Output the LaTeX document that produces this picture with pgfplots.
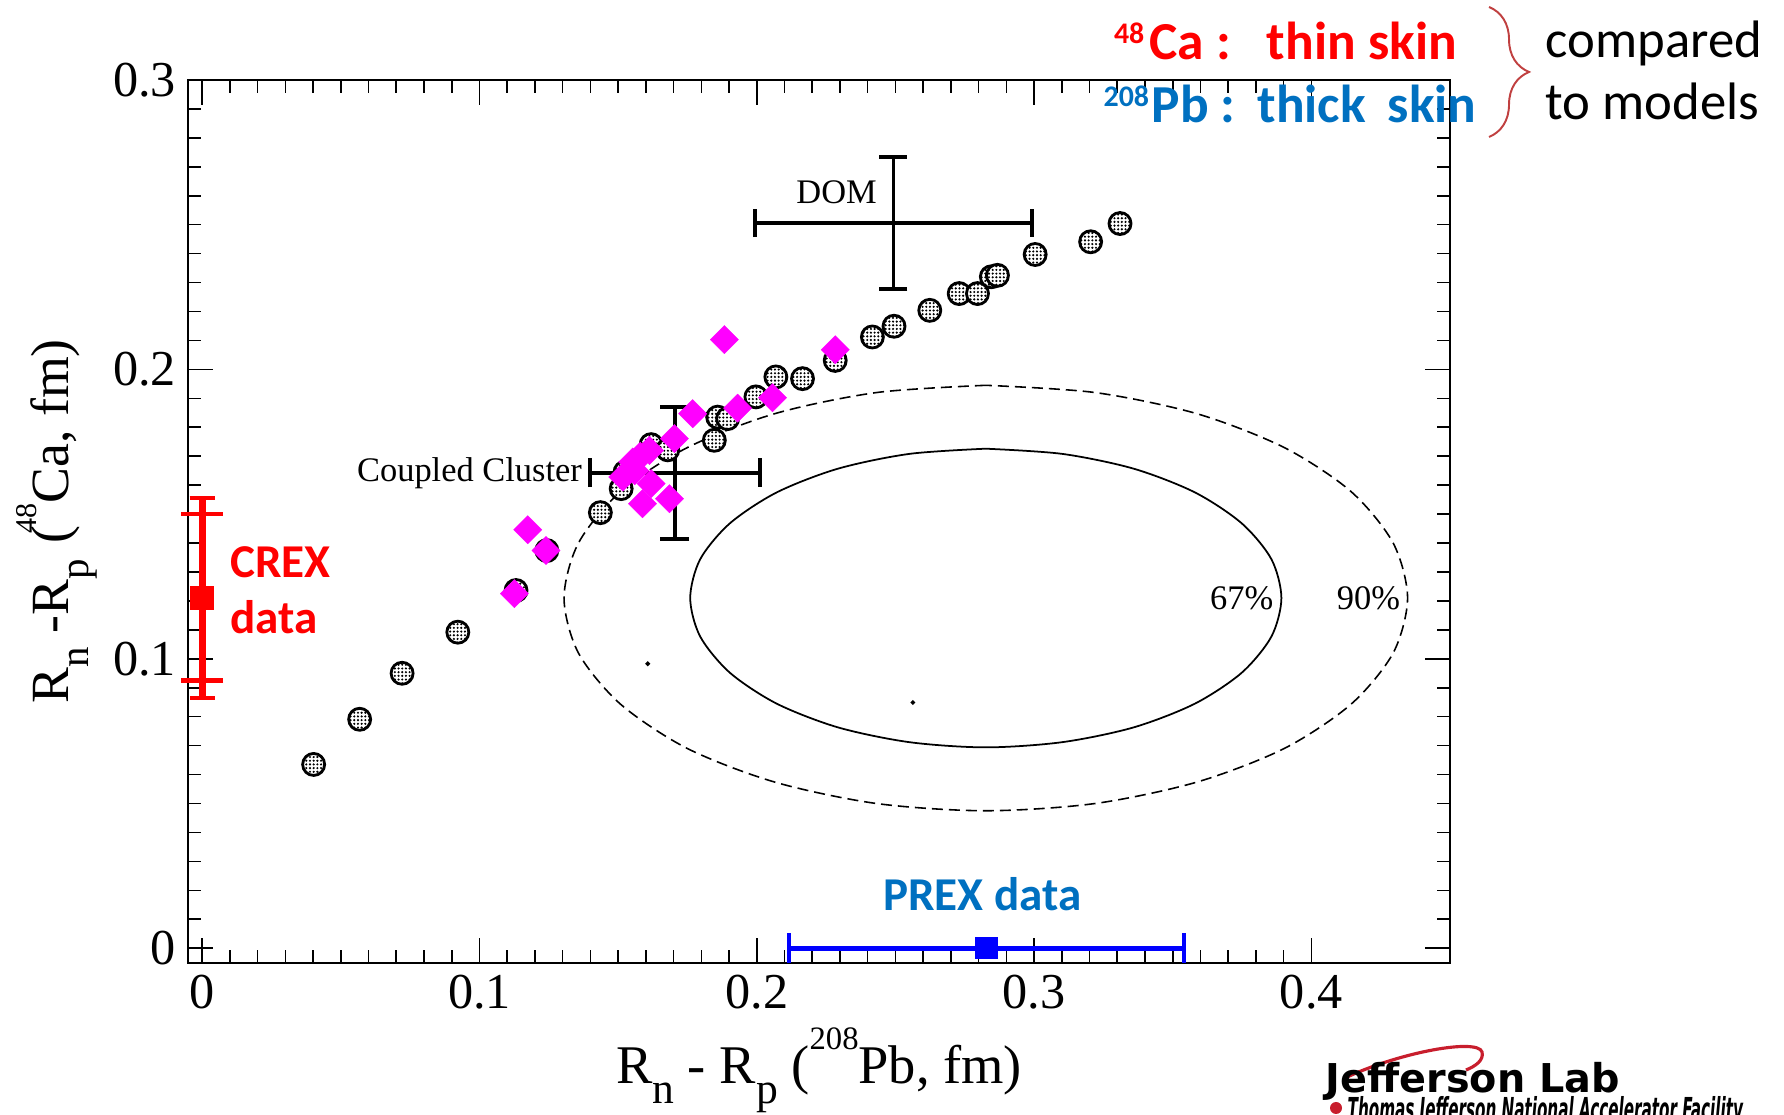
\documentclass[border=0pt]{standalone}
\usepackage{fontspec}
\setmainfont{Liberation Serif}
\newfontfamily\cali{Carlito}
\newfontfamily\djv{DejaVu Sans}
\usepackage{graphicx}
\usepackage{pgfplots}
\pgfplotsset{compat=1.18}
\usetikzlibrary{patterns,decorations.pathreplacing}

\definecolor{crexred}{RGB}{255,0,0}
\definecolor{prexblue}{RGB}{0,0,255}
\definecolor{txtblue}{RGB}{0,112,192}
\definecolor{magD}{RGB}{255,0,255}
\definecolor{bracered}{RGB}{192,64,64}
\definecolor{jlabred}{RGB}{200,30,45}

\pgfdeclarepatternformonly{stipdots}{\pgfqpoint{-0.5pt}{-0.5pt}}{\pgfqpoint{0.5pt}{0.5pt}}{\pgfqpoint{1.05pt}{1.05pt}}{\pgfpathcircle{\pgfpointorigin}{0.34pt}\pgfusepath{fill}}
\pgfdeclareplotmark{stipple}{%
  \pgfpathcircle{\pgfpointorigin}{\pgfplotmarksize}%
  \pgfsetfillcolor{white}\pgfusepathqfill
  \pgfpathcircle{\pgfpointorigin}{\pgfplotmarksize}%
  \pgfsetfillpattern{stipdots}{black}\pgfusepathqfillstroke}

\newcommand\subx[1]{\raisebox{-0.37em}{\scalebox{0.8}{#1}}}
\newcommand\supx[1]{\raisebox{0.62em}{\scalebox{0.6}{#1}}}
\newcommand\suby[1]{\raisebox{-0.37em}{\scalebox{0.76}{#1}}}
\newcommand\supy[1]{\raisebox{0.6em}{\scalebox{0.56}{#1}}}

\begin{document}
\begin{tikzpicture}
\path[use as bounding box] (-18.83mm,-15.23mm) rectangle (159.57mm,96.27mm);
\begin{axis}[
  at={(0,0)}, anchor=south west, scale only axis,
  width=126.17mm, height=88.27mm,
  xmin=-0.005, xmax=0.45, ymin=-0.005, ymax=0.3,
  xtick={0,0.1,0.2,0.3,0.4}, ytick={0,0.1,0.2,0.3},
  minor x tick num=9, minor y tick num=9,
  tick pos=both, tick align=inside,
  major tick length=2.5mm, minor tick length=1.3mm,
  every tick/.style={black, line width=0.45pt},
  axis line style={line width=0.55pt},
  /pgf/number format/assume math mode=true,
  tick label style={font=\fontsize{14.3}{16}\selectfont},
  label style={font=\fontsize{15.5}{18}\selectfont},
  xlabel={R\subx{n} - R\subx{p} (\supx{208}Pb, fm)},
  ylabel={R\suby{n} -R\suby{p}\hspace{0.3em}(\hspace{-0.15em}\supy{48}Ca, fm)},
  xlabel style={at={(axis description cs:0.5,-0.1363)}, anchor=base},
  ylabel style={at={(axis description cs:-0.0946,0.5)}, anchor=base, font=\fontsize{15.3}{18}\selectfont},
  clip=false,
]
% 67% contour
\addplot[black, line width=0.5pt, smooth] coordinates {
(0.2826,0.1726) (0.2550,0.1708) (0.2293,0.1657) (0.2072,0.1575) (0.1903,0.1468) (0.1796,0.1344)
(0.1760,0.1210) (0.1796,0.1077) (0.1903,0.0952) (0.2072,0.0845) (0.2293,0.0763) (0.2550,0.0712)
(0.2826,0.0694) (0.3102,0.0712) (0.3359,0.0763) (0.3580,0.0845) (0.3749,0.0952) (0.3856,0.1077)
(0.3892,0.1210) (0.3856,0.1344) (0.3749,0.1468) (0.3580,0.1575) (0.3359,0.1657) (0.3102,0.1708)
(0.2826,0.1726)};
% 90% contour
\addplot[black, line width=0.45pt, smooth, dash pattern=on 1.1mm off 0.6mm] coordinates {
(0.2826,0.1945) (0.2432,0.1920) (0.2065,0.1847) (0.1750,0.1730) (0.1509,0.1578) (0.1357,0.1400)
(0.1305,0.1210) (0.1357,0.1020) (0.1509,0.0843) (0.1750,0.0690) (0.2065,0.0574) (0.2432,0.0500)
(0.2826,0.0475) (0.3220,0.0500) (0.3587,0.0574) (0.3902,0.0690) (0.4143,0.0843) (0.4295,0.1020)
(0.4347,0.1210) (0.4295,0.1400) (0.4143,0.1578) (0.3902,0.1730) (0.3587,0.1847) (0.3220,0.1920)
(0.2826,0.1945)};
\addplot[only marks, mark=*, mark size=0.45pt, black] coordinates {(0.1607,0.0983) (0.2563,0.0849)};
% model points (stippled circles)
\addplot[only marks, mark=stipple, mark size=1.1mm, mark options={draw=black, line width=0.8pt}] coordinates {
(0.0402,0.0635) (0.0568,0.0791) (0.0721,0.0950) (0.0922,0.1092) (0.1132,0.1236) (0.1243,0.1374)
(0.1436,0.1505) (0.1525,0.1645) (0.1511,0.1588) (0.1619,0.1740) (0.1679,0.1722) (0.1847,0.1755)
(0.1859,0.1835) (0.1895,0.1830) (0.1997,0.1905) (0.2069,0.1974) (0.2165,0.1968) (0.2283,0.2031)
(0.2417,0.2112) (0.2495,0.2149) (0.2624,0.2204) (0.2730,0.2262) (0.2796,0.2262) (0.2846,0.2320)
(0.2868,0.2325) (0.3004,0.2397) (0.3204,0.2441) (0.3310,0.2504)};
% model points (magenta diamonds)
\addplot[only marks, mark=square*, mark size=1.0mm, mark options={rotate=45, fill=magD, draw=magD, line width=0.1pt}] coordinates {
(0.1126,0.1225) (0.1174,0.1446) (0.1240,0.1374) (0.1517,0.1628) (0.1560,0.1650) (0.1553,0.1680)
(0.1580,0.1700) (0.1588,0.1536) (0.1619,0.1605) (0.1613,0.1720) (0.1685,0.1553) (0.1703,0.1761)
(0.1769,0.1847) (0.1883,0.2103) (0.1931,0.1866) (0.2057,0.1902) (0.2283,0.2068)};
% DOM
\addplot[black, mark=none, error bars/.cd, x dir=both, y dir=both, x explicit, y explicit,
  error bar style={line width=1.05pt, black}, error mark options={rotate=90, line width=1.05pt, mark size=1.4mm, black}]
  coordinates {(0.2493,0.2505) +- (0.0499,0.0228)};
% Coupled Cluster
\addplot[black, mark=none, error bars/.cd, x dir=both, y dir=both, x explicit, y explicit,
  error bar style={line width=1.05pt, black}, error mark options={rotate=90, line width=1.05pt, mark size=1.45mm, black}]
  coordinates {(0.1705,0.1643) +- (0.0306,0.0228)};
% CREX
\addplot[crexred, mark=none, error bars/.cd, y dir=both, y explicit,
  error bar style={line width=2pt, crexred}, error mark options={rotate=90, line width=1.2pt, mark size=1.25mm, crexred}]
  coordinates {(0,0.1210) +- (0,0.0346)};
\addplot[crexred, mark=none, error bars/.cd, y dir=both, y explicit,
  error bar style={line width=1.2pt, crexred}, error mark options={rotate=90, line width=1.2pt, mark size=2.1mm, crexred}]
  coordinates {(0,0.1213) +- (0,0.0288)};
\addplot[only marks, mark=square*, mark size=1.15mm, crexred] coordinates {(0,0.1210)};
% PREX
\addplot[prexblue, mark=none, error bars/.cd, x dir=both, x explicit,
  error bar style={line width=1.3pt, prexblue}, error mark options={rotate=90, line width=1.3pt, mark size=1.5mm, prexblue}]
  coordinates {(0.2829,0) +- (0.0712,0)};
\addplot[only marks, mark=square*, mark size=1.05mm, prexblue] coordinates {(0.2829,0)};

\node[inner sep=0, font=\fontsize{9.8}{11}\selectfont] at (axis cs:0.2288,0.2611) {DOM};
\node[inner sep=0, anchor=east, font=\fontsize{9.8}{11}\selectfont] at (axis cs:0.1372,0.1641) {Coupled Cluster};
\node[inner sep=0, anchor=east, font=\fontsize{9.8}{11}\selectfont] at (axis cs:0.3865,0.1210) {67\%};
\node[inner sep=0, anchor=east, font=\fontsize{9.8}{11}\selectfont] at (axis cs:0.4322,0.1210) {90\%};
\node[inner sep=0, anchor=base west, text=crexred, font={\cali\bfseries\fontsize{13.4}{16}\selectfont}] at (axis cs:0.0099,0.1282) {CREX};
\node[inner sep=0, anchor=base west, text=crexred, font={\cali\bfseries\fontsize{13.4}{16}\selectfont}] at (axis cs:0.0099,0.1086) {data};
\node[inner sep=0, anchor=base, text=txtblue, font={\cali\bfseries\fontsize{13.4}{16}\selectfont}] at (axis cs:0.2813,0.0130) {PREX data};
\end{axis}
\begin{scope}[x=0.1mm,y=-0.1mm,shift={(-188.3,-962.7)}]
\node[inner sep=0, anchor=base west, text=crexred, font={\cali\bfseries\fontsize{15.2}{18}\selectfont}] at (1149,60)
  {\llap{\raisebox{1.6mm}{\fontsize{8.5}{10}\selectfont 48}\hspace{0.1em}}Ca :\hspace{0.67em}thin skin};
\node[inner sep=0, anchor=base west, text=txtblue, font={\cali\bfseries\fontsize{15.2}{18}\selectfont}] at (1151,123)
  {\llap{\raisebox{1.6mm}{\fontsize{8.5}{10}\selectfont 208}\hspace{0.05em}}Pb :\hspace{0.41em}thick\hspace{0.41em}skin};
\node[inner sep=0, anchor=base west, font={\cali\fontsize{15}{18}\selectfont}] at (1545,58) {compared};
\node[inner sep=0, anchor=base west, font={\cali\fontsize{15}{18}\selectfont}] at (1545,120) {to models};
\draw[bracered, line width=0.55pt, decorate, decoration={brace, amplitude=4mm}] (1489,7) -- (1489,137);
\draw[jlabred, line width=0.9pt] (1345,1078) .. controls (1400,1052) and (1478,1038) .. (1482,1052) .. controls (1484,1060) and (1476,1066) .. (1466,1070);
\node[inner sep=0, anchor=base west, font={\djv\bfseries\fontsize{11.3}{13}\selectfont}] at (1325,1093) {Jefferson Lab};
\fill[jlabred] (1336,1108) circle[radius=0.6mm];
\node[inner sep=0, anchor=base west, font={\djv\bfseries\itshape\fontsize{9}{10}\selectfont}] at (1347,1121) {\scalebox{0.48}[1]{Thomas Jefferson National Accelerator Facility}};
\end{scope}
\end{tikzpicture}
\end{document}
